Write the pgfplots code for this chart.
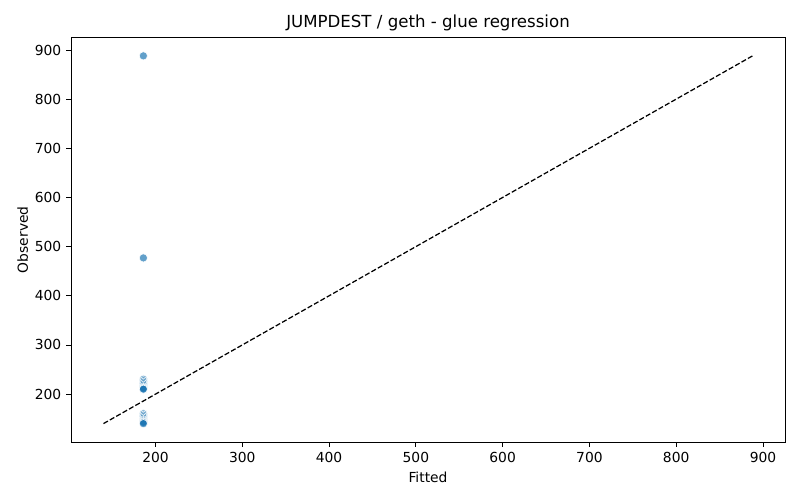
\documentclass[border=0pt]{standalone}
\usepackage{pgfplots}
\pgfplotsset{compat=1.18}
\usepackage{fontspec}
\setmainfont{DejaVu Sans}
\definecolor{mplblue}{HTML}{1F77B4}
\begin{document}
\begin{tikzpicture}
\useasboundingbox (0,0) rectangle (8in,5in);
\begin{axis}[
  at={(0.71in,0.58in)}, anchor=south west,
  scale only axis, width=7.14in, height=4.045in,
  xmin=102.6, xmax=925.4, ymin=102.6, ymax=925.4,
  xtick={200,300,...,900}, ytick={200,300,...,900},
  tick align=outside, major tick length=3.5pt,
  tick style={black, line width=0.6pt},
  xtick pos=bottom, ytick pos=left,
  axis line style={line width=0.6pt},
  /pgf/number format/assume math mode=true,
  tick label style={font=\fontsize{10}{12}\selectfont},
  label style={font=\fontsize{10}{12}\selectfont},
  title style={font=\fontsize{12}{14}\selectfont, yshift=-5pt},
  title={JUMPDEST / geth - glue regression},
  xlabel={Fitted}, ylabel={Observed},
  xlabel style={yshift=0pt},
  ylabel style={yshift=-2pt},
]
\addplot[black, line width=0.9pt, dash pattern=on 3.7pt off 1.6pt] coordinates {(140,140) (888,888)};
\addplot[only marks, mark=*, mark size=3pt, mark options={fill=mplblue, fill opacity=0.7, draw=white, line width=0.5pt, draw opacity=0.9}]
coordinates {
(186,888) (186,477)
(186,230) (186,227) (186,224) (186,221) (186,218) (186,215) (186,213) (186,212) (186,211) (186,210)
(186,160) (186,157) (186,154) (186,151) (186,148) (186,146) (186,144) (186,143) (186,142) (186,140)
};
\end{axis}
\end{tikzpicture}
\end{document}
